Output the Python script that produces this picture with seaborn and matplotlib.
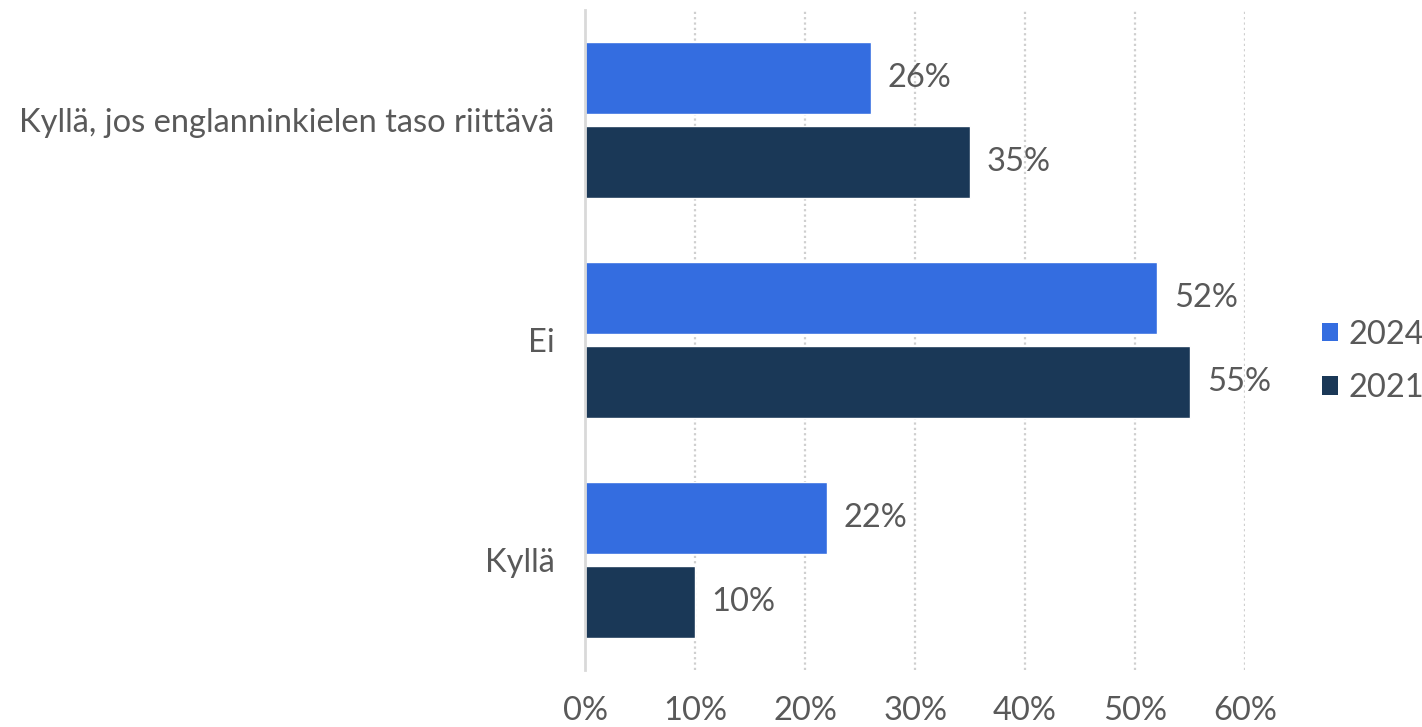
import matplotlib
matplotlib.use("Agg")
import matplotlib.pyplot as plt
from matplotlib.patches import Patch
from matplotlib.ticker import FuncFormatter
import pandas as pd
import seaborn as sns

categories = ["Kyllä, jos englanninkielen taso riittävä", "Ei", "Kyllä"]
years = ["2024", "2021"]
values_2024 = [26, 52, 22]
values_2021 = [35, 55, 10]
x_ticks = [0, 10, 20, 30, 40, 50, 60]

colors = {"2024": "#346DE0", "2021": "#1A3857"}
text_color = "#595959"

df = pd.DataFrame({
    "kategoria": categories * 2,
    "vuosi": [years[0]] * 3 + [years[1]] * 3,
    "osuus": values_2024 + values_2021,
})

sns.set_theme(style="white")
plt.rcParams["font.family"] = ["Lato", "DejaVu Sans"]

fs = 23.5

fig = plt.figure(figsize=(14.22, 7.27), dpi=100)
ax = fig.add_axes([0.4114, 0.0784, 0.4642, 0.9078])

sns.barplot(data=df, y="kategoria", x="osuus", hue="vuosi", order=categories,
            hue_order=years, palette=colors, orient="h", width=0.76, gap=0.14,
            saturation=1, legend=False, ax=ax)

for container, vals in zip(ax.containers, [values_2024, values_2021]):
    ax.bar_label(container, labels=[f"{v}%" for v in vals], padding=12,
                 fontsize=fs, color=text_color)

ax.set_xlim(0, 60)
ax.set_ylim(2.5, -0.5)
ax.set_xticks(x_ticks)
ax.xaxis.set_major_formatter(FuncFormatter(lambda v, p: f"{v:.0f}%"))
ax.set_xlabel("")
ax.set_ylabel("")

ax.tick_params(axis="x", length=0, pad=19, labelsize=fs, labelcolor=text_color)
ax.tick_params(axis="y", length=0, pad=22, labelsize=fs, labelcolor=text_color)

for v in x_ticks[1:]:
    ax.axvline(v, color="#cfcfcf", linestyle=(0, (1, 1.4)), linewidth=1.6, zorder=0)

for side in ["top", "right", "bottom"]:
    ax.spines[side].set_visible(False)
ax.spines["left"].set_color("#d9d9d9")
ax.spines["left"].set_linewidth(2)

handles = [Patch(facecolor=colors[y], edgecolor="none", label=y) for y in years]
fig.legend(handles=handles, loc="center left", bbox_to_anchor=(0.9297, 0.503),
           frameon=False, fontsize=fs, labelcolor=text_color, handlelength=0.5,
           handleheight=0.5, handletextpad=0.3, labelspacing=0.72,
           borderaxespad=0, borderpad=0)

fig.savefig("out.png", dpi=100)
